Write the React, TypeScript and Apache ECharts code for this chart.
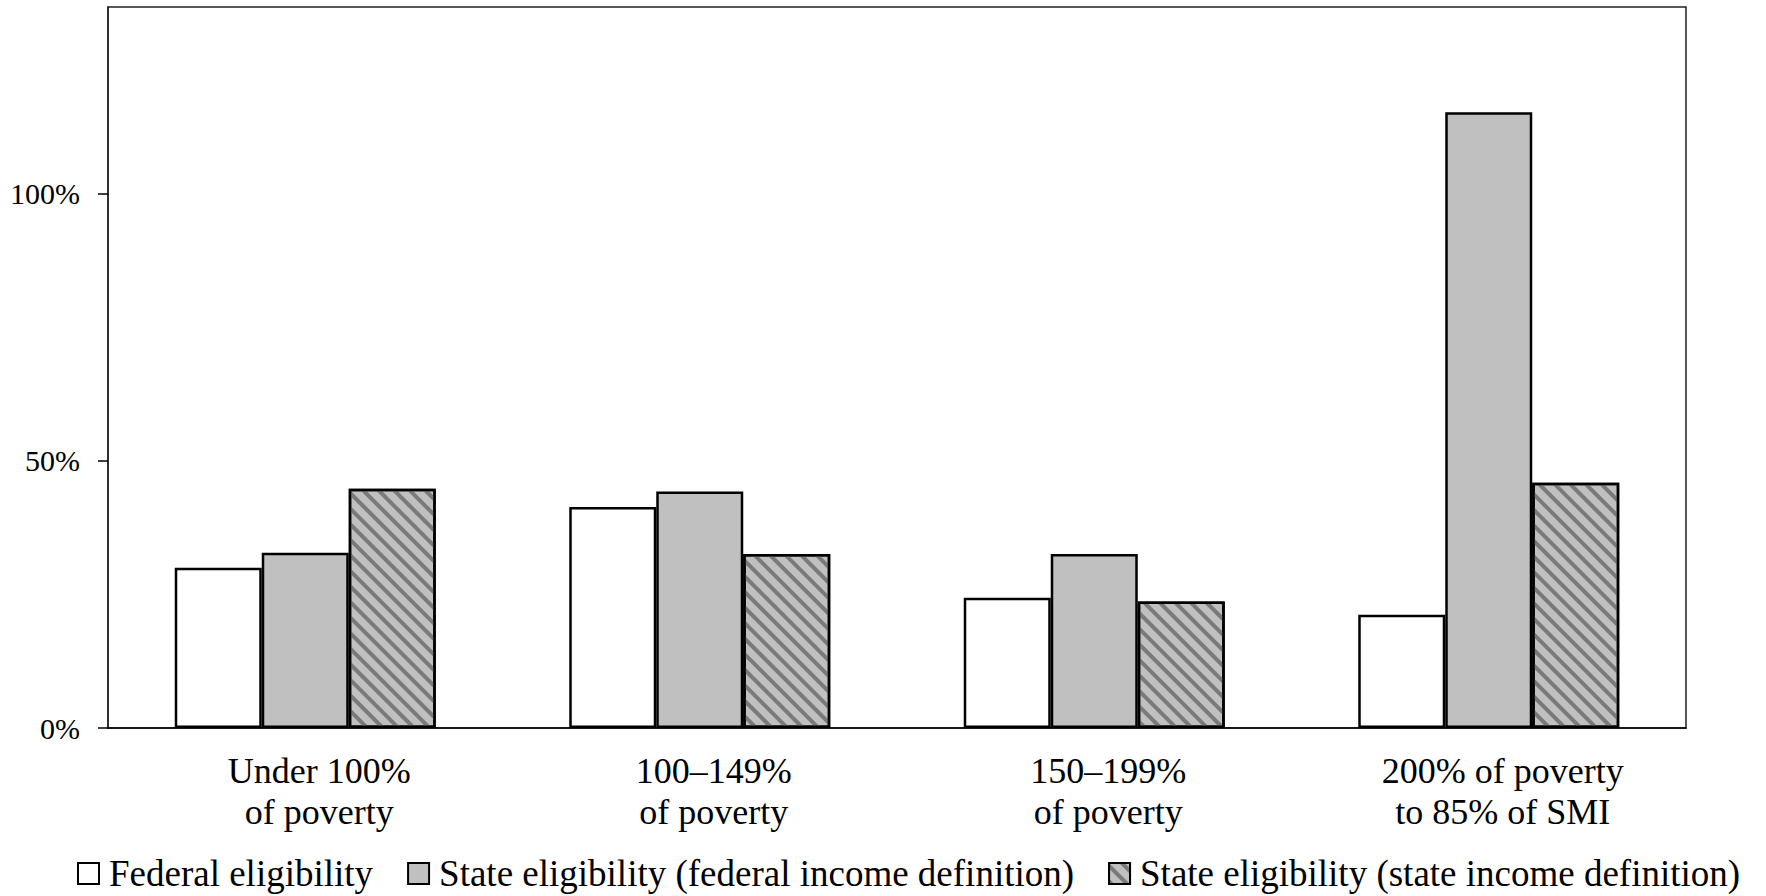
import React, { useEffect, useRef } from "react";
import * as echarts from "echarts";

const categories = [
  "Under 100%\nof poverty",
  "100–149%\nof poverty",
  "150–199%\nof poverty",
  "200% of poverty\nto 85% of SMI",
];
const seriesNames = [
  "Federal eligibility",
  "State eligibility (federal income definition)",
  "State eligibility (state income definition)",
];
const federalEligibility = [30.0, 41.4, 24.4, 21.2];
const stateFederalDef = [32.8, 44.3, 32.6, 115.3];
const stateStateDef = [44.8, 32.6, 23.7, 45.9];
const yTicks = [0, 50, 100];

const FONT = "'Liberation Serif', 'Times New Roman', serif";

export default function App() {
  const ref = useRef<HTMLDivElement>(null);
  useEffect(() => {
    if (!ref.current) return;
    const chart = echarts.init(ref.current, null, { renderer: "svg" });
    const border = { borderColor: "#000", borderWidth: 2.5 };
    chart.setOption({
      animation: false,
      backgroundColor: "#fff",
      textStyle: { fontFamily: FONT, color: "#000" },
      grid: {
        left: 108,
        right: 80,
        top: 7,
        bottom: 168,
        show: true,
        borderColor: "#222",
        borderWidth: 1.5,
        backgroundColor: "transparent",
        containLabel: false,
        outerBoundsMode: "none",
      },
      legend: {
        left: 72,
        top: 850,
        itemWidth: 21,
        itemHeight: 21,
        itemGap: 34,
        icon: "rect",
        itemStyle: { borderWidth: 2 },
        textStyle: {
          fontFamily: FONT,
          fontSize: 37,
          lineHeight: 37,
          color: "#000",
          padding: [0, 0, 0, 5],
        },
        data: seriesNames,
      },
      xAxis: {
        type: "category",
        data: categories,
        axisLine: { show: true, lineStyle: { color: "#000", width: 1.5 } },
        axisTick: { show: false },
        axisLabel: {
          interval: 0,
          fontFamily: FONT,
          fontSize: 36,
          lineHeight: 41,
          color: "#000",
          margin: 22,
          padding: [0, 0, 0, 28],
        },
        splitLine: { show: false },
      },
      yAxis: {
        type: "value",
        min: 0,
        max: 135,
        interval: 50,
        axisLine: { show: true, lineStyle: { color: "#222", width: 1.5 } },
        axisTick: {
          show: true,
          length: 10,
          customValues: yTicks,
          lineStyle: { color: "#000", width: 1.5 },
        },
        axisLabel: {
          customValues: yTicks,
          formatter: "{value}%",
          fontFamily: FONT,
          fontSize: 30,
          color: "#000",
          margin: 28,
        },
        splitLine: { show: false },
      },
      series: [
        {
          name: seriesNames[0],
          type: "bar",
          data: federalEligibility,
          barWidth: 87,
          barGap: "0%",
          itemStyle: { color: "#ffffff", ...border },
        },
        {
          name: seriesNames[1],
          type: "bar",
          data: stateFederalDef,
          barWidth: 87,
          barGap: "0%",
          itemStyle: { color: "#c0c0c0", ...border },
        },
        {
          name: seriesNames[2],
          type: "bar",
          data: stateStateDef,
          barWidth: 87,
          barGap: "0%",
          itemStyle: {
            color: "#c0c0c0",
            ...border,
            decal: {
              symbol: "rect",
              symbolSize: 1,
              color: "#7a7a7a",
              dashArrayX: [1, 0],
              dashArrayY: [4, 7],
              rotation: Math.PI / 4,
            },
          },
        },
      ],
    });
    return () => chart.dispose();
  }, []);
  return (
    <div
      ref={ref}
      style={{ position: "absolute", left: 0, top: 0, width: 1766, height: 896 }}
    />
  );
}
